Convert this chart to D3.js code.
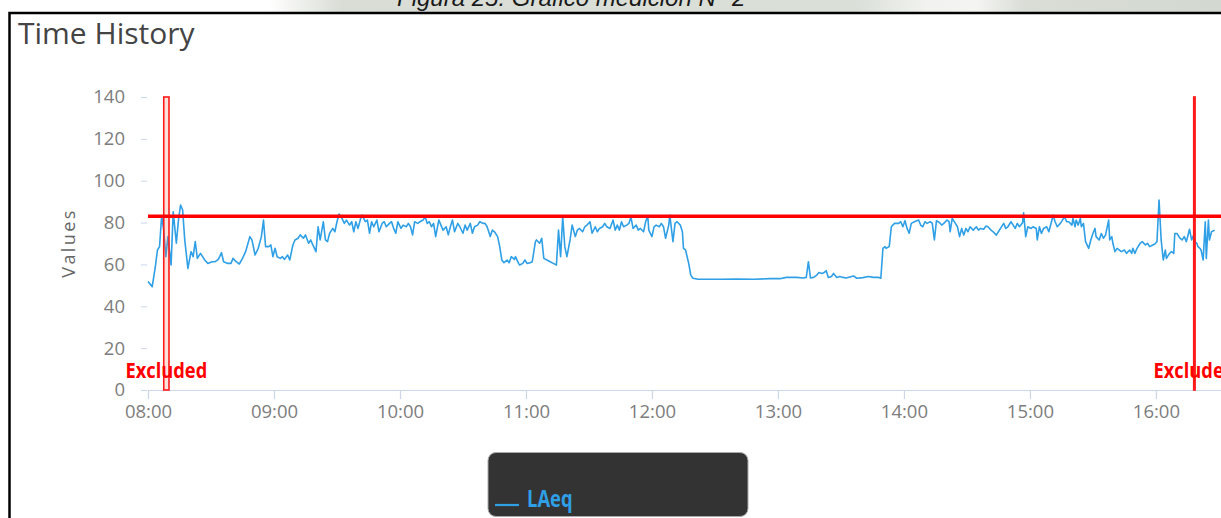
<!DOCTYPE html>
<html>
<head>
<meta charset="utf-8">
<script src="https://cdn.jsdelivr.net/npm/d3@7"></script>
<style>
  html, body { margin: 0; padding: 0; background: #fff; overflow: hidden; }
  svg { display: block; }
</style>
</head>
<body>
<svg id="chart" width="1221" height="518"></svg>
<script>
// ---- data -------------------------------------------------------------
const captionText = "Figura 25: Gráfico medición N° 2";
const chartTitle = "Time History";
const yAxisTitle = "Values";
const seriesName = "LAeq";

const startTime = "08:00";
const endTime = "16:31";

// minutes elapsed since startTime for each logged LAeq sample
const minutes = [
  0,2,3.5,4.5,5.5,6.5,7.5,8.5,9.5,11,
  12,13.5,14.5,15.5,16.5,17.5,19,20.5,21.5,22.5,
  23.5,25,26,27,28.5,30.5,32,33.5,35,36,
  38,39.5,40.5,42,43.5,45,46.5,48.5,49.5,51,
  52.5,54,55,56,57.5,58.5,59.5,60.5,61.5,63,
  64,65,66.5,67.5,69,70,71.5,72.5,74,75,
  76.5,77.5,78.5,80,81,82,83.5,84.5,85.5,86.5,
  88,89,90,91,92,93.5,94.5,96,97,98,
  99,100,101.5,102,103.5,104.5,105.5,106.5,107.5,109,
  110,111.5,112.5,113.5,115,116,117,118,119,120.5,
  121.5,123,124,125,126,127,128.5,129.5,131,132,
  133,134,135,136,137,138.5,139.5,140.5,142,143,
  144,145,146,147.5,148.5,150,151,152,153.5,154.5,
  155.5,157,158,159.5,160.5,161.5,163,164,165,166.5,
  167.5,168.5,169.5,171,172,173,174.5,175,176.5,
  177,178.5,179.5,180.5,182,183,184.5,185,186.5,187.5,
  188.5,190,191.5,193,194.5,195.5,196.5,197.5,198.5,199.5,
  201,202,203.5,204.5,205.5,207,208,209,210.5,211.5,
  213,214,215,216.5,217.5,218.5,220,221.5,222.5,223.5,
  224.5,225.5,226.5,228,229,230,231,232.5,233.5,234.5,
  236,237,238,238.5,240,241,242,243.5,244.5,245.5,
  246.5,248,248.5,250,251,252,253.5,254.5,255,256,
  257.5,258.5,259.5,262,266,272.5,280.5,288.5,296,301,
  304,309,312,313.5,314.5,315.5,317,318.5,319.5,321,
  322,323,324,325.5,326.5,328,329.5,331,332.5,336,
  337.5,340.5,343,345.5,348,349,350,351,351.5,353,
  354,355.5,357.5,358.5,359.5,360.5,361.5,362.5,363.5,365,
  367,
  368,369,370,371,372.5,373.5,374.5,375.5,377,378,
  379,380.5,381.5,382,383,384.5,385.5,386.5,387.5,388.5,
  389.5,390.5,391.5,393,394.5,395.5,396.5,398,399,400,
  401.5,402.5,404,405,406,407.5,408.5,409.5,411,412,
  413,414,415,416.5,417,418,419,420.5,421.5,423,
  423.5,424.5,425.5,426.5,428,429,430.5,431,432,433,
  434.5,435.5,436.5,437.5,438.5,440,440.5,441.5,442,443,
  444,444.5,445.5,446.5,448,449,450,451,451.5,453,
  454,455,456,457.5,458,459,459.5,460.5,461.5,462.5,
  463.5,465,466,467.5,468.5,469,470,471,472.5,473.5,
  475,476,477,478.5,479.5,480.5,481.5,482.5,483.5,484.5,
  485,486.5,487.5,488.5,489,490,491.5,492.5,493.5,494.5,
  495.5,496,497,498,498.5,499.5,500,501,501.5,502.5,
  503.5,504,505,505.5,506.5,508
];

// LAeq level (dB) of each sample
const laeq = [
  51.8,49.4,58.9,66.9,68.5,83.1,76.4,63.7,73.3,59.7,
  85.2,70.1,81.2,88.4,86.0,71.7,58.1,66.1,63.7,70.9,
  62.9,65.3,63.7,62.1,60.5,61.3,61.3,62.4,65.6,61.3,
  60.5,60.5,62.9,61.3,60.2,62.9,66.1,73.3,71.7,64.5,
  67.7,73.3,81.2,68.5,68.5,69.3,63.7,67.7,63.7,62.9,
  63.7,62.4,64.5,62.1,69.3,71.7,72.5,74.1,72.5,74.1,
  70.1,71.7,69.3,66.1,78.0,71.7,80.4,71.7,70.9,74.9,
  77.2,75.6,80.4,84.1,82.8,79.6,81.2,78.8,80.4,75.6,
  80.4,77.2,82.8,83.6,80.4,81.2,74.9,80.4,78.0,81.2,
  75.6,79.6,80.4,78.0,79.6,80.4,77.2,74.9,80.4,77.2,
  78.8,78.0,79.6,78.0,74.1,80.4,79.6,80.4,81.2,82.8,
  79.6,80.4,78.0,79.6,73.3,81.2,78.8,76.4,78.0,74.1,
  78.0,81.2,75.6,79.6,78.0,74.9,78.8,76.4,79.6,74.9,
  78.0,78.8,80.4,79.6,79.6,78.0,73.3,76.4,75.6,73.3,
  68.5,62.1,60.8,62.1,60.8,63.7,62.4,63.7,60.5,
  59.7,60.5,62.1,60.5,60.8,61.3,70.9,71.7,70.1,72.5,
  62.9,62.1,61.3,60.5,59.7,76.4,63.7,82.8,68.5,63.7,
  71.7,78.8,73.3,76.4,77.2,75.6,78.0,78.8,80.4,74.9,
  78.0,75.6,77.2,78.0,79.6,78.0,77.2,81.2,76.4,78.8,
  76.4,80.4,78.0,78.8,79.6,82.5,77.2,78.8,76.4,77.2,
  75.6,80.4,83.1,76.4,73.3,78.0,78.8,78.0,79.6,78.0,
  72.5,78.8,83.6,70.9,79.6,80.4,78.8,75.6,67.7,66.9,
  60.5,54.9,53.4,52.9,52.9,52.9,53.0,52.9,53.2,53.2,
  53.8,53.8,53.5,53.8,61.3,53.5,53.8,54.9,56.1,55.7,
  56.1,57.0,53.8,54.2,55.7,53.8,54.2,53.8,53.5,54.5,
  53.4,53.7,54.2,53.8,53.8,53.4,67.7,68.5,67.7,68.5,
  78.0,79.6,79.6,80.4,78.0,80.9,77.2,74.9,79.6,80.4,
  81.2,
  78.8,78.0,80.4,79.6,80.4,79.6,71.7,80.9,79.9,78.8,
  79.6,81.2,80.4,75.6,82.0,79.6,78.0,73.3,77.2,74.0,
  77.2,75.6,78.0,76.4,78.0,76.4,77.2,76.8,78.3,78.0,
  76.4,75.6,74.0,75.6,77.2,79.6,77.2,78.0,80.4,78.8,
  77.2,79.6,78.0,79.9,84.7,73.3,78.0,77.2,78.0,77.2,
  71.7,78.0,74.8,77.2,78.0,75.6,81.2,83.6,80.4,78.0,
  79.6,81.2,82.8,80.4,80.4,78.8,82.0,78.0,81.2,78.8,
  82.0,78.0,79.6,70.9,67.7,71.7,74.8,77.2,73.3,71.7,
  74.8,72.5,74.0,81.2,71.7,73.3,70.1,66.1,67.7,66.9,
  66.1,66.9,65.3,66.9,65.3,67.7,65.3,67.7,70.1,70.9,
  69.3,70.1,68.5,69.3,69.8,70.9,90.8,71.7,62.1,66.9,
  62.9,65.3,66.1,65.3,74.8,74.8,72.5,71.7,73.3,70.9,
  74.8,76.8,71.7,74.0,70.9,70.1,68.5,67.7,66.9,62.1,
  80.4,62.9,81.2,71.7,75.6,76.4
];

const yTicks = [0, 20, 40, 60, 80, 100, 120, 140];
const xTickLabels = ["08:00", "09:00", "10:00", "11:00", "12:00", "13:00", "14:00", "15:00", "16:00"];

// excluded periods [from, to]
const excludedFrom = ["08:07:30", "16:18:00"];
const excludedTo   = ["08:10:00", "16:18:40"];
const excludedLabel = "Excluded";

// limit level (dB)
const limitLevel = 83;

// ---- chart ------------------------------------------------------------
const svg = d3.select("#chart");
const W = 1221, H = 518;
const plot = { left: 148, right: 1221, top: 97, bottom: 390 };

const parseHM = d3.timeParse("%H:%M");
const parseHMS = d3.timeParse("%H:%M:%S");
const t0 = parseHM(startTime);
const points = minutes.map((m, i) => ({ t: new Date(+t0 + m * 60000), v: laeq[i] }));

const x = d3.scaleTime()
  .domain([t0, parseHM(endTime)])
  .range([plot.left, plot.right]);
const y = d3.scaleLinear()
  .domain([0, 140])
  .range([plot.bottom, plot.top]);

// page strip above the frame (caption of the report)
const defs = svg.append("defs");
const grad = defs.append("linearGradient").attr("id", "strip").attr("x1", 0).attr("x2", 1);
[[0, "#ffffff"], [0.22, "#ffffff"], [0.28, "#d9ddd6"], [0.7, "#dadfd8"], [0.76, "#f2f3f0"],
 [0.8, "#f4f4f2"], [0.84, "#d9ddd6"], [1, "#d3d8d0"]].forEach(([o, c]) =>
  grad.append("stop").attr("offset", o).attr("stop-color", c));
svg.append("rect").attr("x", 0).attr("y", 0).attr("width", W).attr("height", 13)
  .attr("fill", "url(#strip)");
svg.append("text")
  .attr("x", 397).attr("y", 6)
  .attr("font-family", "Liberation Sans, Arial, sans-serif")
  .attr("font-style", "italic")
  .attr("font-size", 24)
  .attr("fill", "#1a1a1a")
  .text(captionText);

// frame
svg.append("rect").attr("x", 9.5).attr("y", 13).attr("width", W).attr("height", H)
  .attr("fill", "#fff");
svg.append("path")
  .attr("d", `M9.5,${H + 5}V13H${W + 5}`)
  .attr("fill", "none").attr("stroke", "#000").attr("stroke-width", 2.5);

// title
svg.append("text")
  .attr("x", 18).attr("y", 44)
  .attr("font-family", "Open Sans, sans-serif")
  .attr("font-size", 30)
  .attr("fill", "#444")
  .text(chartTitle);

// y axis
const yAxis = svg.append("g")
  .attr("transform", `translate(${plot.left},0)`)
  .call(d3.axisLeft(y).tickValues(yTicks).tickSize(6).tickPadding(17));
yAxis.select(".domain").remove();
yAxis.selectAll(".tick line").attr("stroke", "#ccd6eb").attr("transform", "translate(-1,0)");
yAxis.selectAll(".tick text")
  .attr("font-family", "Open Sans, sans-serif")
  .attr("font-size", 18.5)
  .attr("fill", "#7d7d7d");

svg.append("text")
  .attr("transform", `translate(75,243) rotate(-90)`)
  .attr("text-anchor", "middle")
  .attr("font-family", "Open Sans, sans-serif")
  .attr("font-size", 18)
  .attr("letter-spacing", 2.4)
  .attr("fill", "#666")
  .text(yAxisTitle);

// x axis
const xAxis = svg.append("g")
  .attr("transform", `translate(0,${plot.bottom})`)
  .call(d3.axisBottom(x)
    .tickValues(xTickLabels.map(parseHM))
    .tickFormat(d3.timeFormat("%H:%M"))
    .tickSize(9).tickSizeOuter(0).tickPadding(6));
xAxis.select(".domain").attr("stroke", "#ccd6eb").attr("stroke-width", 1.2);
xAxis.selectAll(".tick line").attr("stroke", "#ccd6eb").attr("stroke-width", 1.2);
xAxis.selectAll(".tick text")
  .attr("font-family", "Open Sans, sans-serif")
  .attr("font-size", 18.5)
  .attr("fill", "#7d7d7d");

// LAeq series
svg.append("path")
  .datum(points)
  .attr("fill", "none")
  .attr("stroke", "#2f9fe6")
  .attr("stroke-width", 1.6)
  .attr("stroke-linejoin", "round")
  .attr("d", d3.line().x(d => x(d.t)).y(d => y(d.v)));

// excluded periods
const spans = excludedFrom.map((f, i) => ({ from: parseHMS(f), to: parseHMS(excludedTo[i]) }));
const bands = svg.append("g");
bands.selectAll("rect").data(spans).join("rect")
  .attr("x", d => x(d.from))
  .attr("width", d => x(d.to) - x(d.from))
  .attr("y", y(140))
  .attr("height", y(0) - y(140))
  .attr("fill", "rgba(255,120,90,0.22)")
  .attr("stroke", "#ff1a1a")
  .attr("stroke-width", 1.6);
bands.selectAll("text").data(spans).join("text")
  .attr("transform", d => `translate(${(x(d.from) + x(d.to)) / 2},378) scale(0.87,1)`)
  .attr("text-anchor", "middle")
  .attr("font-family", "Open Sans, sans-serif")
  .attr("font-weight", 700)
  .attr("font-size", 21)
  .attr("fill", "#ff0000")
  .text(excludedLabel);

// limit line
svg.append("line")
  .attr("x1", plot.left).attr("x2", plot.right)
  .attr("y1", y(limitLevel)).attr("y2", y(limitLevel))
  .attr("stroke", "#ff0000")
  .attr("stroke-width", 3.5);

// legend
const legend = svg.append("g");
legend.append("rect")
  .attr("x", 488).attr("y", 452.5).attr("width", 260).attr("height", 64)
  .attr("rx", 8)
  .attr("fill", "#333333")
  .attr("stroke", "#aaa").attr("stroke-width", 1);
legend.append("line")
  .attr("x1", 495).attr("x2", 519).attr("y1", 505).attr("y2", 505)
  .attr("stroke", "#2f9fe6").attr("stroke-width", 2.2);
legend.append("text")
  .attr("transform", "translate(527,507) scale(0.8,1)")
  .attr("font-family", "Open Sans, sans-serif")
  .attr("font-weight", 700)
  .attr("font-size", 23)
  .attr("fill", "#2f9fe6")
  .text(seriesName);
</script>
</body>
</html>
